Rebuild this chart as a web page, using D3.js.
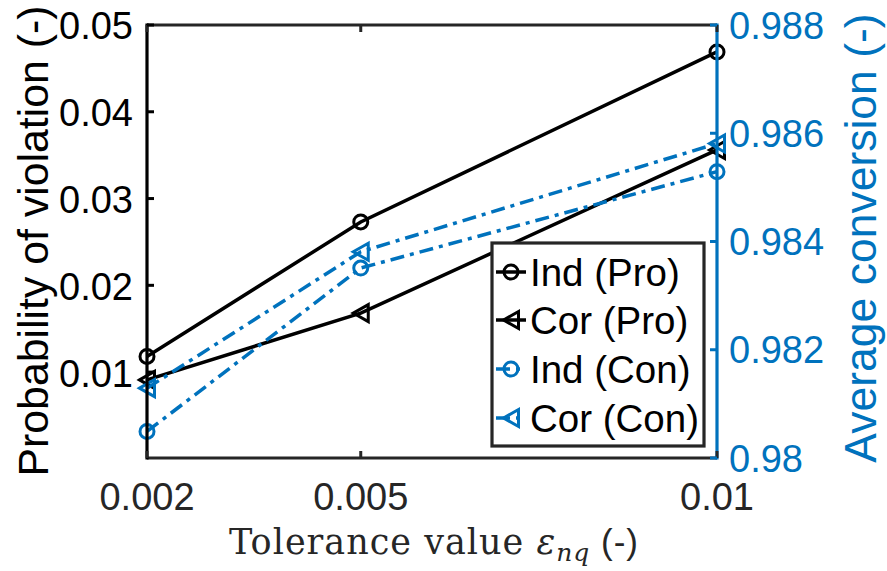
<!DOCTYPE html>
<html><head><meta charset="utf-8">
<script src="https://cdn.jsdelivr.net/npm/d3@7"></script>
<style>body{margin:0;background:#fff}svg{display:block}</style>
</head><body><svg id="c" width="887" height="571"></svg>
<script>
const tolerance = [0.002, 0.005, 0.01];
const indPro = [0.0118, 0.0273, 0.0469];
const corPro = [0.0091, 0.0168, 0.0356];
const indCon = [0.98049, 0.98351, 0.98529];
const corCon = [0.98129, 0.98381, 0.98581];
const xTicks = [0.002, 0.005, 0.01];
const xTickLabels = ["0.002", "0.005", "0.01"];
const yLeftTicks = [0.01, 0.02, 0.03, 0.04, 0.05];
const yLeftTickLabels = ["0.01", "0.02", "0.03", "0.04", "0.05"];
const yRightTicks = [0.98, 0.982, 0.984, 0.986, 0.988];
const yRightTickLabels = ["0.98", "0.982", "0.984", "0.986", "0.988"];
const seriesNames = ["Ind (Pro)", "Cor (Pro)", "Ind (Con)", "Cor (Con)"];

const BLUE = "#0072BD", BLACK = "#000000", GRAY = "#262626";
const L = 147, R = 717, T = 25, B = 458;
const svg = d3.select("#c");
const font = "'Liberation Sans', Arial, Helvetica, sans-serif";
const LW = 3.5;

const x = d3.scaleLinear().domain([0.002, 0.01]).range([L, R]);
const yL = d3.scaleLinear().domain([0.0001, 0.05]).range([B, T]);
const yR = d3.scaleLinear().domain([0.98, 0.988]).range([B, T]);

const series = [
  {name: seriesNames[0], vals: indPro, scale: yL, color: BLACK, marker: "circle", dash: null},
  {name: seriesNames[1], vals: corPro, scale: yL, color: BLACK, marker: "tri", dash: null},
  {name: seriesNames[2], vals: indCon, scale: yR, color: BLUE, marker: "circle", dash: "14,6,4,6"},
  {name: seriesNames[3], vals: corCon, scale: yR, color: BLUE, marker: "tri", dash: "14,6,4,6"}
];

function drawMarker(g, type, cx, cy, color) {
  if (type === "circle") {
    g.append("circle").attr("cx", cx).attr("cy", cy).attr("r", 7)
      .attr("fill", "none").attr("stroke", color).attr("stroke-width", 3);
  } else {
    g.append("path").attr("d", `M${cx-7.5},${cy} L${cx+7.5},${cy-8.5} L${cx+7.5},${cy+8.5} Z`)
      .attr("fill", "none").attr("stroke", color).attr("stroke-width", 3)
      .attr("stroke-linejoin", "miter");
  }
}

const plot = svg.append("g");
series.forEach(s => {
  const line = d3.line().x((d, i) => x(tolerance[i])).y(d => s.scale(d));
  plot.append("path").datum(s.vals).attr("d", line).attr("fill", "none")
    .attr("stroke", s.color).attr("stroke-width", LW)
    .attr("stroke-dasharray", s.dash);
  s.vals.forEach((v, i) => drawMarker(plot, s.marker, x(tolerance[i]), s.scale(v), s.color));
});

// axes
const ax = svg.append("g");
ax.append("line").attr("x1", L).attr("x2", R).attr("y1", T).attr("y2", T).attr("stroke", GRAY).attr("stroke-width", 3.2);
ax.append("line").attr("x1", L).attr("x2", R).attr("y1", B).attr("y2", B).attr("stroke", GRAY).attr("stroke-width", 3.2);
ax.append("line").attr("x1", L).attr("x2", L).attr("y1", T - 1.6).attr("y2", B + 1.6).attr("stroke", BLACK).attr("stroke-width", 3.2);
ax.append("line").attr("x1", R).attr("x2", R).attr("y1", T - 1.6).attr("y2", B + 1.6).attr("stroke", BLUE).attr("stroke-width", 3.2);

const tl = 7;
xTicks.forEach((t, i) => {
  ax.append("line").attr("x1", x(t)).attr("x2", x(t)).attr("y1", B).attr("y2", B - tl).attr("stroke", GRAY).attr("stroke-width", 3);
  ax.append("line").attr("x1", x(t)).attr("x2", x(t)).attr("y1", T).attr("y2", T + tl).attr("stroke", GRAY).attr("stroke-width", 3);
  ax.append("text").attr("x", x(t)).attr("y", 510).attr("text-anchor", "middle")
    .attr("font-family", font).attr("font-size", 38).attr("fill", GRAY).text(xTickLabels[i]);
});
yLeftTicks.forEach((t, i) => {
  ax.append("line").attr("x1", L).attr("x2", L + tl).attr("y1", yL(t)).attr("y2", yL(t)).attr("stroke", BLACK).attr("stroke-width", 3);
  ax.append("text").attr("x", 133).attr("y", yL(t)).attr("dy", "0.38em").attr("text-anchor", "end")
    .attr("font-family", font).attr("font-size", 38).attr("fill", BLACK).text(yLeftTickLabels[i]);
});
yRightTicks.forEach((t, i) => {
  ax.append("line").attr("x1", R).attr("x2", R - tl).attr("y1", yR(t)).attr("y2", yR(t)).attr("stroke", BLUE).attr("stroke-width", 3);
  ax.append("text").attr("x", 729).attr("y", yR(t)).attr("dy", "0.36em").attr("text-anchor", "start")
    .attr("font-family", font).attr("font-size", 38).attr("fill", BLUE).text(yRightTickLabels[i]);
});

// axis labels
svg.append("text").attr("transform", "translate(48,241) rotate(-90)").attr("text-anchor", "middle")
  .attr("font-family", font).attr("font-size", 42.8).attr("fill", BLACK).text("Probability of violation (-)");
svg.append("text").attr("transform", "translate(876,238) rotate(-90)").attr("text-anchor", "middle")
  .attr("font-family", font).attr("font-size", 44.5).attr("fill", BLUE).text("Average conversion (-)");

const xl = svg.append("text").attr("x", 434).attr("y", 554).attr("text-anchor", "middle")
  .attr("font-family", "'DejaVu Serif', 'Liberation Serif', serif").attr("font-size", 35)
  .attr("letter-spacing", 1).attr("fill", GRAY);
xl.append("tspan").text("Tolerance value ");
xl.append("tspan").attr("font-style", "italic").text("ε");
xl.append("tspan").attr("font-style", "italic").attr("font-size", 25).attr("dy", 7).text("nq");
xl.append("tspan").attr("dy", -7).attr("font-family", font).text(" (-)");

// legend
const lg = svg.append("g");
lg.append("rect").attr("x", 492).attr("y", 243).attr("width", 212).attr("height", 203)
  .attr("fill", "#fff").attr("stroke", GRAY).attr("stroke-width", 3.2);
const rowY = [272, 320, 369, 418];
series.forEach((s, i) => {
  const cy = rowY[i];
  lg.append("line").attr("x1", 496).attr("x2", 526).attr("y1", cy).attr("y2", cy)
    .attr("stroke", s.color).attr("stroke-width", LW).attr("stroke-dasharray", s.dash);
  drawMarker(lg, s.marker, 511, cy, s.color);
  lg.append("text").attr("x", 530).attr("y", cy).attr("dy", "0.36em")
    .attr("font-family", font).attr("font-size", 38.5).attr("fill", BLACK).text(s.name);
});
</script></body></html>
